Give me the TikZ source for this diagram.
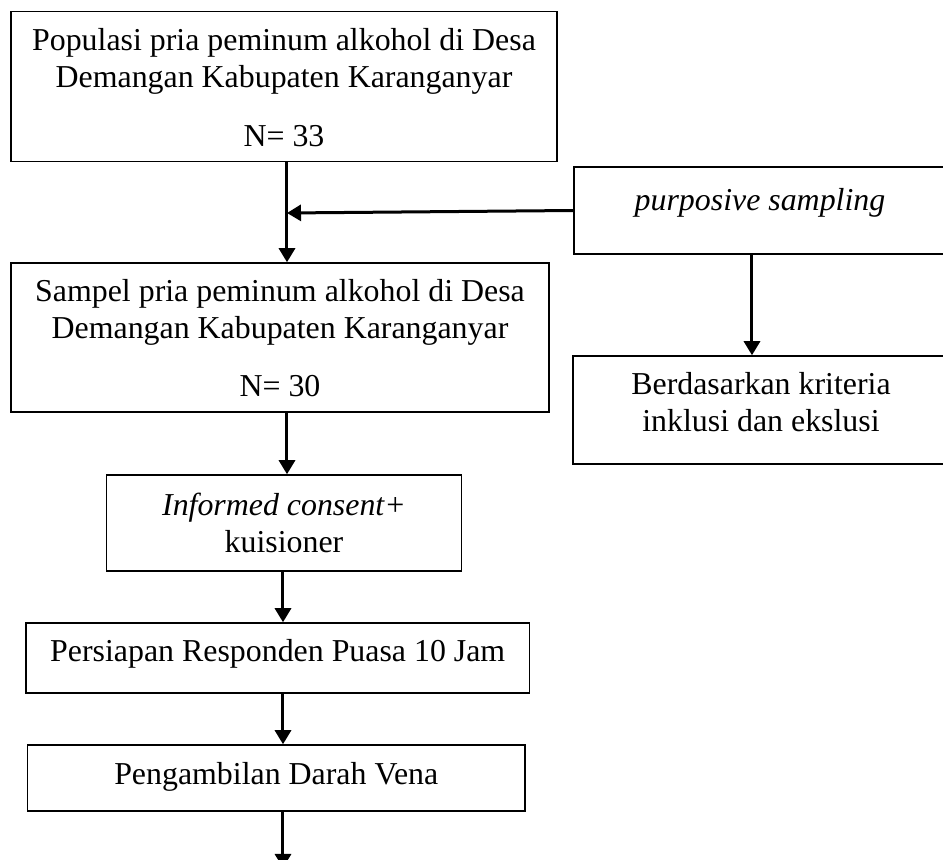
\documentclass[tikz,border=0pt]{standalone}
\usepackage{fontspec}
\setmainfont{Liberation Serif}
\usetikzlibrary{arrows.meta}
\begin{document}
\begin{tikzpicture}[x=0.4pt,y=-0.4pt,
  box/.style={draw, line width=0.6pt, inner sep=0pt, minimum width=#1},
  box/.default=10pt,
  txt/.style={anchor=base, inner sep=0pt, font=\fontsize{12.75}{15}\selectfont},
  arr/.style={line width=1.2pt, -{Triangle[length=5.6pt,width=6.4pt]}}]
\useasboundingbox (0,0) rectangle (943,860);
% boxes
\node[box={546*0.4pt}, minimum height={150*0.4pt}] (b1) at (284,86.7) {};
\node[box={372*0.4pt}, minimum height={87*0.4pt}] (bp) at (760,210.5) {};
\node[box={538*0.4pt}, minimum height={149*0.4pt}] (b2) at (280,337.5) {};
\node[box={373*0.4pt}, minimum height={108*0.4pt}] (bk) at (759.5,410) {};
\node[box={355*0.4pt}, minimum height={96*0.4pt}] (bi) at (284,523) {};
\node[box={503.5*0.4pt}, minimum height={70*0.4pt}] (bq) at (277.75,658) {};
\node[box={497.5*0.4pt}, minimum height={66*0.4pt}] (bv) at (276.25,778) {};
% texts
\node[txt] (t1a) at (284,50.7) {Populasi pria peminum alkohol di Desa};
\node[txt] (t1b) at (284,87.3) {Demangan Kabupaten Karanganyar};
\node[txt] (t1c) at (284,146.7) {N= 33};
\node[txt] (tp) at (760,211) {\itshape purposive sampling};
\node[txt] (t2a) at (280,301.7) {Sampel pria peminum alkohol di Desa};
\node[txt] (t2b) at (280,338) {Demangan Kabupaten Karanganyar};
\node[txt] (t2c) at (280,396.7) {N= 30};
\node[txt] (tka) at (761,395) {Berdasarkan kriteria};
\node[txt] (tkb) at (761,432) {inklusi dan ekslusi};
\node[txt] (tia) at (284,515) {\itshape Informed consent+};
\node[txt] (tib) at (284,553) {kuisioner};
\node[txt] (tq) at (277.75,662) {Persiapan Responden Puasa 10 Jam};
\node[txt] (tv) at (276.25,785) {Pengambilan Darah Vena};
% connector helpers
\coordinate (xa) at (287,0);
\coordinate (xb) at (283,0);
\coordinate (xc) at (752,0);
\coordinate (m) at (287,213);
\coordinate (end) at (283,868);
% connectors
\draw[arr] (b1.south -| xa) -- (b2.north -| xa);
\draw[arr] (bp.west) -- (m);
\draw[arr] (bp.south -| xc) -- (bk.north -| xc);
\draw[arr] (b2.south -| xa) -- (bi.north -| xa);
\draw[arr] (bi.south -| xb) -- (bq.north -| xb);
\draw[arr] (bq.south -| xb) -- (bv.north -| xb);
\draw[arr] (bv.south -| xb) -- (end);
\end{tikzpicture}
\end{document}
